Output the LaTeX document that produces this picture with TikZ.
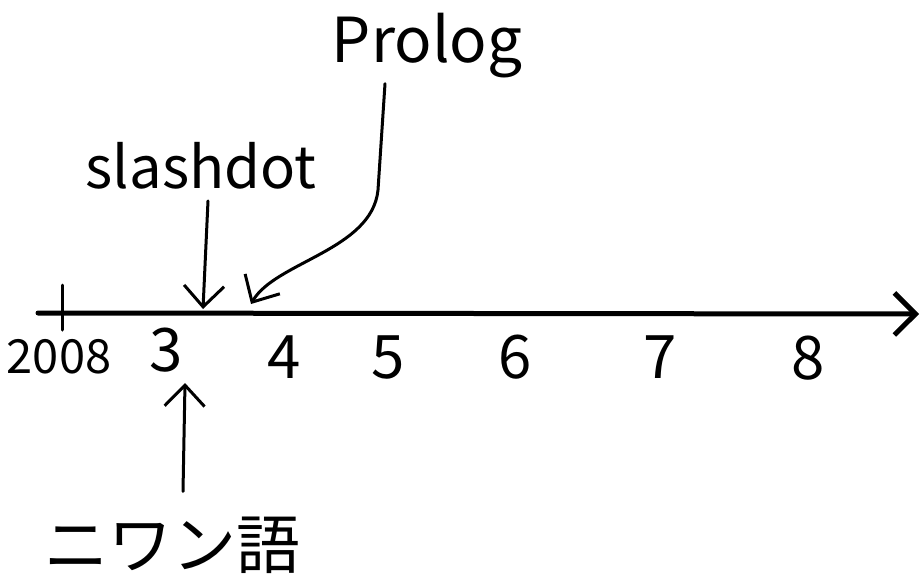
\documentclass[tikz,border=0pt]{standalone}
\usepackage{fontspec}
\setmainfont{Noto Sans CJK JP}
\usetikzlibrary{arrows.meta}

\begin{document}
\begin{tikzpicture}[x=1pt, y=-1pt, every node/.style={inner sep=0pt}, axis/.style={line width=5pt, line cap=round, -{Straight Barb[length=21pt, width=42pt, line width=5pt]}}, pointer/.style={line width=3pt, line cap=round, -{Straight Barb[length=21pt, width=40pt, line width=3pt]}}, year/.style={font=\fontsize{60}{60}\selectfont}, label/.style={anchor=base, font=\fontsize{62}{62}\selectfont}]
	\useasboundingbox (0,0) rectangle (923,581);
	\coordinate (start) at (38,313);
	\coordinate (end) at (919,314);
	\draw[axis] (start) -- (end);
	\draw[line width=3pt, line cap=round] (62,285) -- (62,330);
	\node[year, font=\fontsize{47}{47}\selectfont] (y2008) at (59,357) {2008};
	\node[year] (y3) at (166,350) {3};
	\node[year] (y4) at (284,357) {4};
	\node[year] (y5) at (388,357) {5};
	\node[year] (y6) at (515,357) {6};
	\node[year] (y7) at (660,357) {7};
	\node[year] (y8) at (808,358) {8};
	\node[label, font=\fontsize{58}{58}\selectfont] (slashdot) at (201,188) {slashdot};
	\node[label] (prolog) at (427,62) {Prolog};
	\node[font=\fontsize{64}{64}\selectfont] (nihongo) at (172,545) {ニワン語};
	\coordinate (slashdot hit) at (203,309);
	\coordinate (prolog hit) at (251,304);
	\coordinate (nihongo hit) at (185,383);
	\draw[pointer] ([xshift=7pt, yshift=-12pt]slashdot.south) -- (slashdot hit);
	\draw[pointer] ([xshift=-42pt, yshift=-6pt]prolog.south) -- (378,190) .. controls (372,250) and (275,262) .. (prolog hit);
	\draw[pointer] ([xshift=11pt, yshift=25pt]nihongo.north) -- (nihongo hit);
\end{tikzpicture}
\end{document}
